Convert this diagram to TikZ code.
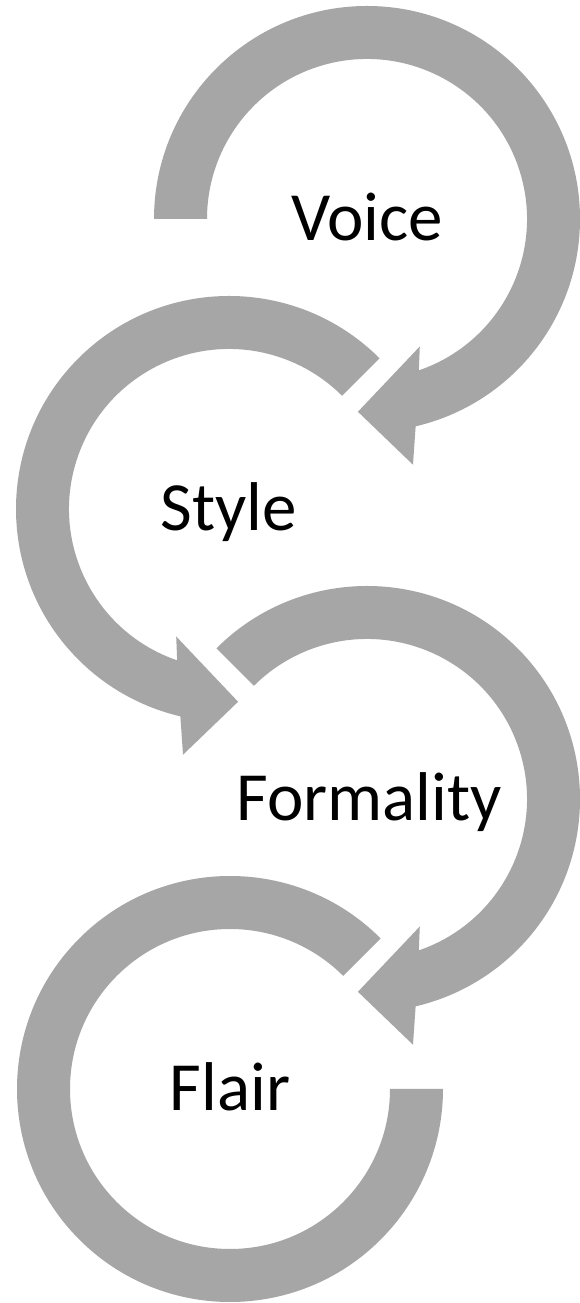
\documentclass[tikz,border=0pt]{standalone}
\usepackage{fontspec}
\setmainfont{Carlito}
\usetikzlibrary{calc}
\definecolor{ringgray}{RGB}{166,166,166}

% outer and inner radius of every ring band
\newcommand\RingOut{213}
\newcommand\RingIn{160}

% clockwise ring: #1 centre, #2 start angle; ends in an arrow head at the bottom
\newcommand\ringCW[2]{%
  \fill[ring] ($(#1)+(#2:\RingOut)$)
    arc[start angle=#2, end angle=-76.8, radius=\RingOut]
    -- ($(#1)+(-79.4:250)$) -- ($(#1)+(-92.7:193)$) -- ($(#1)+(-67.5:138)$)
    -- ($(#1)+(-71.1:\RingIn)$)
    arc[start angle=-71.1, end angle=#2, radius=\RingIn] -- cycle;}

% counter-clockwise ring: #1 centre, #2 start angle
\newcommand\ringCCW[2]{%
  \fill[ring] ($(#1)+(#2:\RingOut)$)
    arc[start angle=#2, end angle=256.8, radius=\RingOut]
    -- ($(#1)+(259.4:250)$) -- ($(#1)+(272.7:193)$) -- ($(#1)+(247.5:138)$)
    -- ($(#1)+(251.1:\RingIn)$)
    arc[start angle=251.1, end angle=#2, radius=\RingIn] -- cycle;}

\begin{document}
\begin{tikzpicture}[x=1pt, y=1pt,
  ring/.style={fill=ringgray},
  lbl/.style={font=\fontsize{69}{82}\selectfont, text=black, inner sep=0pt, anchor=base}]
  \fill[white] (0,0) rectangle (580,1303);
  \useasboundingbox (0,0) rectangle (580,1303);

  \coordinate (c1) at (367,1084);
  \coordinate (c2) at (229,794);
  \coordinate (c3) at (367,504);
  \coordinate (c4) at (230,214);

  % the four rings
  \ringCW{c1}{180}
  \ringCCW{c2}{45}
  \ringCW{c3}{135}
  \fill[ring] ($(c4)+(45:\RingOut)$)
    arc[start angle=45, end angle=360, radius=\RingOut]
    -- ($(c4)+(0:\RingIn)$)
    arc[start angle=360, end angle=45, radius=\RingIn] -- cycle;

  % labels
  \node[lbl] (voice)     at ($(c1)+(0,-22)$) {Voice};
  \node[lbl] (style)     at ($(c2)+(0,-22)$) {Style};
  \node[lbl] (formality) at ($(c3)+(2,-22)$) {Formality};
  \node[lbl] (flair)     at ($(c4)+(0,-22)$) {Flair};
\end{tikzpicture}
\end{document}
